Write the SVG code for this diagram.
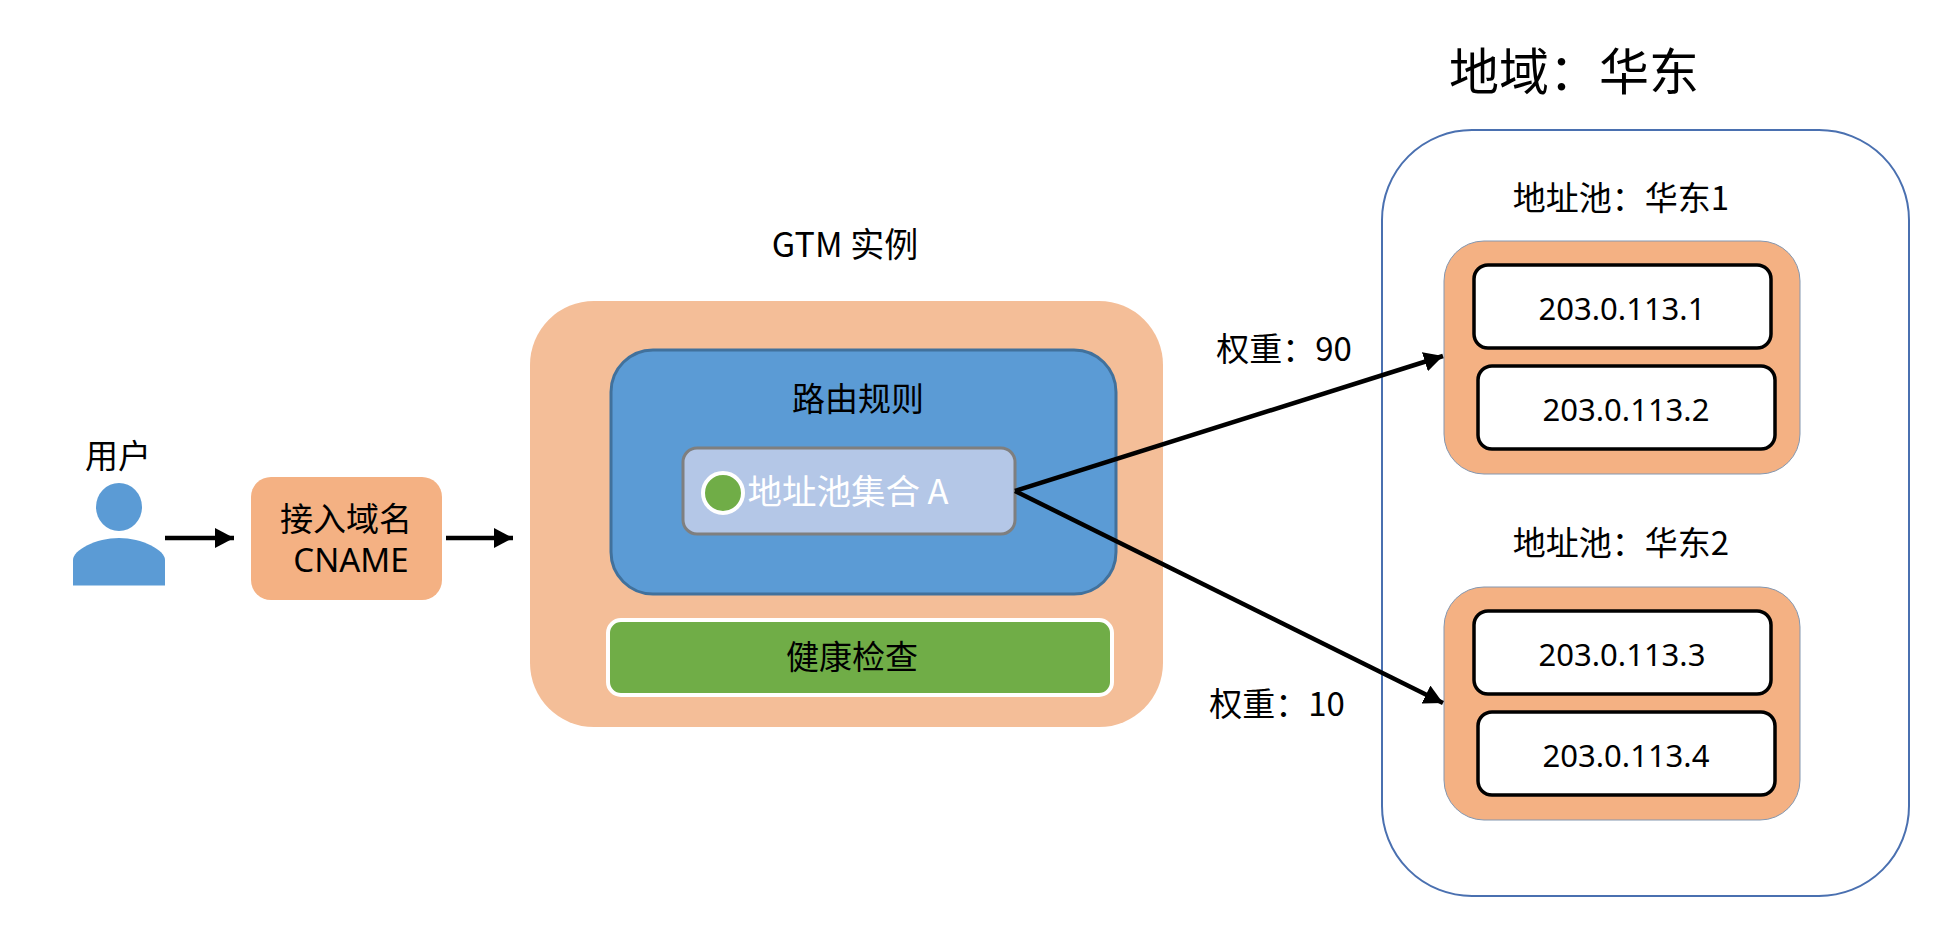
<svg xmlns="http://www.w3.org/2000/svg" width="1950" height="942" viewBox="0 0 1950 942">
<style>
text{font-family:"Noto Sans CJK SC","Noto Sans",sans-serif;font-size:33px;fill:#000;text-anchor:middle}
.ip{fill:#fff;stroke:#000;stroke-width:3.5}
.pool{fill:#F4B183;stroke:#8497B0;stroke-width:1}
.ipt{font-family:"Noto Sans","Noto Sans CJK SC",sans-serif;font-size:31px}
.link{stroke:#000;stroke-width:4.5;fill:none}
</style>
<defs>
<marker id="head" markerUnits="userSpaceOnUse" markerWidth="19" markerHeight="20" refX="19" refY="10" orient="auto">
<path d="M0 0L19 10L0 20Z" fill="#000"/>
</marker>
</defs>
<rect width="1950" height="942" fill="#fff"/>
<g id="user">
<ellipse cx="119" cy="507" rx="23" ry="24" fill="#5B9BD5"/>
<path d="M73 585.500V560C73 550 96 538 119 538C142 538 165 550 165 560V585.500Z" fill="#5B9BD5"/>
<text x="118" y="468">用户</text>
</g>
<g id="cname">
<rect x="251" y="477" width="191" height="123" rx="20" fill="#F4B183"/>
<text x="346" y="531">接入域名</text>
<text x="351" y="572" style="font-family:'Noto Sans',sans-serif;font-size:33px">CNAME</text>
</g>
<g id="gtm">
<text x="845" y="257" style="font-size:34px">GTM 实例</text>
<rect x="530" y="301" width="633" height="426" rx="64" fill="#F4BE98"/>
</g>
<g id="routing">
<rect x="611" y="350" width="505" height="244" rx="42" fill="#5B9BD5" stroke="#41719C" stroke-width="3"/>
<text x="858" y="411">路由规则</text>
</g>
<g id="poolset">
<rect x="683" y="448" width="332" height="86" rx="14" fill="#B4C7E7" stroke="#7F7F7F" stroke-width="3"/>
<circle cx="723" cy="493" r="20" fill="#70AD47" stroke="#fff" stroke-width="4"/>
<text x="848" y="504" style="fill:#fff;font-size:34.500px">地址池集合 A</text>
</g>
<g id="health">
<rect x="608" y="620" width="504" height="75" rx="13" fill="#70AD47" stroke="#fff" stroke-width="4"/>
<text x="852" y="669">健康检查</text>
</g>
<g id="region">
<text x="1574" y="90" style="font-size:50px">地域&#xFF1A;华东</text>
<rect x="1382" y="130" width="527" height="766" rx="90" fill="#fff" stroke="#4A70B0" stroke-width="2"/>
</g>
<g id="pool1">
<text x="1621" y="210">地址池&#xFF1A;华东1</text>
<rect class="pool" x="1444" y="241" width="356" height="233" rx="40"/>
<g id="ip1"><rect class="ip" x="1474" y="265" width="297" height="83" rx="14"/><text class="ipt" x="1622" y="320">203.0.113.1</text></g>
<g id="ip2"><rect class="ip" x="1478" y="366" width="297" height="83" rx="14"/><text class="ipt" x="1626" y="421">203.0.113.2</text></g>
</g>
<g id="pool2">
<text x="1621" y="555">地址池&#xFF1A;华东2</text>
<rect class="pool" x="1444" y="587" width="356" height="233" rx="40"/>
<g id="ip3"><rect class="ip" x="1474" y="611" width="297" height="83" rx="14"/><text class="ipt" x="1622" y="666">203.0.113.3</text></g>
<g id="ip4"><rect class="ip" x="1478" y="712" width="297" height="83" rx="14"/><text class="ipt" x="1626" y="767">203.0.113.4</text></g>
</g>
<g id="connectors">
<line class="link" x1="165" y1="538" x2="234" y2="538" marker-end="url(#head)"/>
<line class="link" x1="446" y1="538" x2="513" y2="538" marker-end="url(#head)"/>
<line class="link" x1="1015" y1="491" x2="1443" y2="356" marker-end="url(#head)"/>
<line class="link" x1="1015" y1="491" x2="1443" y2="703" marker-end="url(#head)"/>
</g>
<g id="weights">
<text x="1284" y="361">权重&#xFF1A;90</text>
<text x="1277" y="716">权重&#xFF1A;10</text>
</g>
</svg>
